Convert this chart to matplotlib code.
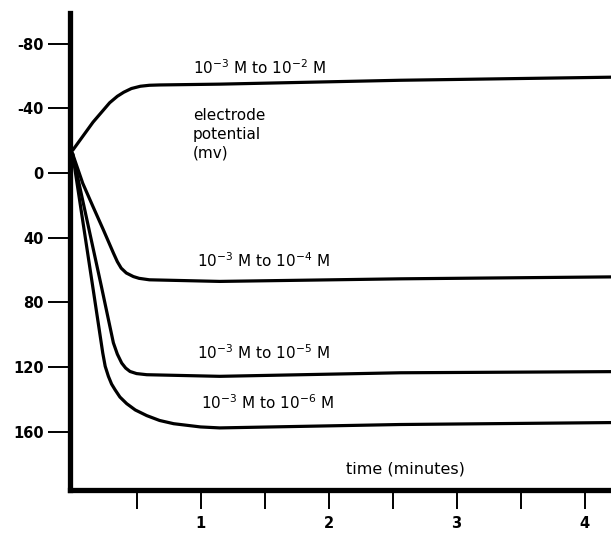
import matplotlib.pyplot as plt

plt.rcParams['font.family'] = 'DejaVu Sans'
plt.rcParams['mathtext.default'] = 'regular'

# values: time in minutes, potential in mv
t_e2 = [0.0, 0.16, 0.29, 0.35, 0.40, 0.46, 0.53, 0.6, 0.68, 1.15, 2.56, 4.21]
mv_e2 = [-14, -31.5, -43.5, -47.5, -50, -52.3, -53.7, -54.3, -54.5, -55, -57.4, -59.3]

t_e4 = [0.0, 0.08, 0.16, 0.24, 0.32, 0.35, 0.38, 0.42, 0.475, 0.52, 0.6, 1.15, 2.56, 4.21]
mv_e4 = [-12, 6.4, 20.8, 35, 49.6, 54.8, 58.8, 61.8, 64, 65.1, 66, 67, 65.4, 64.2]

t_e5 = [0.0, 0.225, 0.319, 0.35, 0.384, 0.415, 0.449, 0.5, 0.58, 1.15, 2.56, 4.21]
mv_e5 = [-12, 70, 105, 112, 117.5, 120.6, 122.7, 124, 124.7, 125.7, 123.5, 122.8]

t_e6 = [0.0, 0.163, 0.236, 0.255, 0.28, 0.305, 0.332, 0.37, 0.423, 0.49, 0.58,
        0.68, 0.79, 1.0, 1.15, 2.56, 4.21]
mv_e6 = [-12, 73, 111.3, 119.5, 125.7, 130.5, 134, 138.5, 142.6, 146.5, 150,
         153, 155, 157, 157.6, 155.5, 154.3]

curve_labels = ['10$^{-3}$ M to 10$^{-2}$ M', '10$^{-3}$ M to 10$^{-4}$ M',
                '10$^{-3}$ M to 10$^{-5}$ M', '10$^{-3}$ M to 10$^{-6}$ M']

yticks = [-80, -40, 0, 40, 80, 120, 160]
ytick_labels = ['-80', '-40', '0', '40', '80', '120', '160']
xticks = [0.5, 1, 1.5, 2, 2.5, 3, 3.5, 4]
xtick_labels = ['', '1', '', '2', '', '3', '', '4']

fig = plt.figure(figsize=(6.11, 5.33), dpi=100)
ax = fig.add_axes([70 / 611, 1 - 490 / 533, 1 - 70 / 611, (490 - 13) / 533])

for t, mv in [(t_e2, mv_e2), (t_e4, mv_e4), (t_e5, mv_e5), (t_e6, mv_e6)]:
    ax.plot(t, mv, color='black', lw=2.3, solid_capstyle='round',
            solid_joinstyle='round')

ax.set_xlim(-0.02, 4.207)
ax.set_ylim(196, -99)

for side in ['top', 'right']:
    ax.spines[side].set_visible(False)
for side in ['left', 'bottom']:
    ax.spines[side].set_linewidth(3.8)
    ax.spines[side].set_capstyle('projecting')

ax.set_yticks(yticks)
ax.set_yticklabels(ytick_labels, fontsize=10.5, fontweight='bold')
ax.set_xticks(xticks)
ax.set_xticklabels(xtick_labels, fontsize=10.5, fontweight='bold')
ax.tick_params(axis='y', direction='out', length=16, width=1.4, pad=3)
ax.tick_params(axis='x', direction='out', length=14, width=1.4, pad=5)

txt = dict(fontsize=11, va='center', ha='left')
ax.text(0.94, -65.4, curve_labels[0], **txt)
ax.text(0.97, 54.3, curve_labels[1], **txt)
ax.text(0.97, 111, curve_labels[2], **txt)
ax.text(1.0, 142, curve_labels[3], **txt)
ax.text(0.94, -40, 'electrode\npotential\n(mv)', fontsize=11, va='top',
        ha='left', linespacing=1.3)
ax.text(2.6, 183, 'time (minutes)', fontsize=11.5, va='center', ha='center')

fig.savefig('out.png', dpi=100)
